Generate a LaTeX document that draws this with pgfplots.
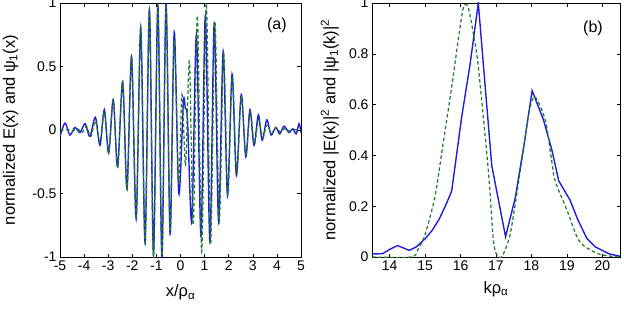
\documentclass[border=0pt]{standalone}
\usepackage{fontspec}
\setmainfont{Liberation Sans}
\usepackage{pgfplots}
\pgfplotsset{compat=1.18}

\definecolor{matblue}{RGB}{30,30,220}
\definecolor{matgreen}{RGB}{35,125,45}

\pgfplotsset{
  panel/.style={
    scale only axis,
    height=254pt,
    tick align=inside,
    major tick length=3.5pt,
    tick style={black, line width=0.5pt},
    axis line style={black, line width=0.6pt},
    font=\fontsize{14}{16}\selectfont,
    tick label style={font=\fontsize{14}{16}\selectfont},
    label style={font=\fontsize{16.5}{19}\selectfont},
    /pgf/number format/assume math mode=true,
  },
  efield/.style={matblue, line width=1.4pt},
  psi/.style={matgreen, line width=1.25pt, dash pattern=on 3.5pt off 2.5pt},
}

\begin{document}
\begin{tikzpicture}
\path[use as bounding box] (0pt,0pt) rectangle (624pt,311pt);

% (a) field E(x) and eigenmode psi_1(x) in real space
\begin{axis}[panel,
  at={(60pt,54pt)}, anchor=south west, width=241pt,
  xmin=-5, xmax=5, ymin=-1, ymax=1,
  xtick={-5,-4,-3,-2,-1,0,1,2,3,4,5},
  xticklabels={-5,-4,-3,-2,-1,0,1,2,3,4,5},
  ytick={-1,-0.5,0,0.5,1},
  yticklabels={-1,-0.5,0,0.5,1},
  xlabel={x/ρ\textsubscript{α}},
  ylabel={normalized E(x) and ψ\textsubscript{1}(x)},
  xlabel style={at={(axis description cs:0.5,-0.14)}, anchor=center},
  ylabel style={at={(axis description cs:-0.205,0.5)}, anchor=center},
]
\addplot[efield, smooth] coordinates {
(-5.00,-0.05)(-4.79,0.055)(-4.59,-0.04)(-4.38,0.02)(-4.17,-0.02)(-3.96,0.05)
(-3.76,-0.05)(-3.53,0.10)(-3.34,-0.12)(-3.16,0.16)(-2.98,-0.18)(-2.79,0.24)
(-2.61,-0.29)(-2.40,0.38)(-2.22,-0.46)(-2.03,0.58)(-1.84,-0.70)(-1.65,0.81)
(-1.47,-0.89)(-1.29,0.95)(-1.12,-0.98)(-0.94,0.98)(-0.77,-1.0)(-0.60,1.0)
(-0.43,-0.82)(-0.26,0.77)(-0.07,-0.50)(0.12,0.22)(0.20,0.17)(0.29,0.08)
(0.47,-0.72)(0.66,0.75)(0.85,-0.84)(1.03,0.90)(1.22,-0.88)(1.40,0.84)
(1.58,-0.72)(1.77,0.62)(1.95,-0.52)(2.14,0.44)(2.32,-0.36)(2.52,0.28)
(2.71,-0.21)(2.88,0.16)(3.05,-0.12)(3.23,0.12)(3.39,-0.08)(3.58,0.08)
(3.76,-0.04)(3.95,0.02)(4.12,-0.03)(4.30,0.03)(4.50,-0.02)(4.66,0.01)
(4.80,-0.03)(4.92,0.05)(5.00,-0.02)
};
\addplot[psi, smooth] coordinates {
(-5.00,0.0)(-4.65,0.003)(-4.45,-0.006)(-4.27,0.01)(-4.08,-0.02)(-3.90,0.03)
(-3.72,-0.05)(-3.53,0.07)(-3.34,-0.10)(-3.16,0.14)(-2.98,-0.18)(-2.79,0.24)
(-2.61,-0.30)(-2.40,0.38)(-2.22,-0.47)(-2.03,0.58)(-1.84,-0.70)(-1.65,0.80)
(-1.47,-0.89)(-1.29,0.95)(-1.12,-1.0)(-0.94,0.97)(-0.77,-0.99)(-0.60,0.97)
(-0.43,-0.80)(-0.26,0.70)(-0.08,-0.42)(0.06,0.28)(0.21,-0.28)(0.37,0.54)
(0.53,-0.75)(0.70,0.90)(0.88,-0.96)(1.07,1.0)(1.25,-0.90)(1.43,0.85)
(1.61,-0.72)(1.79,0.60)(1.96,-0.50)(2.15,0.42)(2.33,-0.34)(2.52,0.27)
(2.71,-0.20)(2.89,0.15)(3.06,-0.11)(3.24,0.08)(3.41,-0.06)(3.59,0.04)
(3.77,-0.03)(3.95,0.02)(4.13,-0.015)(4.30,0.01)(4.50,-0.005)(4.70,0.002)
(5.00,0.0)
};
\node[font=\fontsize{16}{18}\selectfont] at (axis description cs:0.90,0.913) {(a)};
\end{axis}

% (b) spectra |E(k)|^2 and |psi_1(k)|^2
\begin{axis}[panel,
  at={(372pt,54pt)}, anchor=south west, width=248pt,
  xmin=13.5, xmax=20.5, ymin=0, ymax=1,
  xtick={14,15,16,17,18,19,20},
  ytick={0,0.2,0.4,0.6,0.8,1},
  yticklabels={0,0.2,0.4,0.6,0.8,1},
  xlabel={kρ\textsubscript{α}},
  ylabel={normalized |E(k)|\textsuperscript{2} and |ψ\textsubscript{1}(k)|\textsuperscript{2}},
  xlabel style={at={(axis description cs:0.5,-0.125)}, anchor=center},
  ylabel style={at={(axis description cs:-0.17,0.5)}, anchor=center},
]
\addplot[efield] coordinates {
(13.5,0.012)(13.8,0.013)(14.0,0.03)(14.22,0.045)(14.4,0.035)(14.55,0.026)
(14.75,0.04)(15.0,0.072)(15.2,0.105)(15.4,0.15)(15.6,0.21)(15.75,0.26)
(16.03,0.55)(16.27,0.76)(16.5,1.0)(16.88,0.36)(17.27,0.08)(17.54,0.23)
(17.8,0.45)(18.02,0.655)(18.34,0.54)(18.58,0.42)(18.77,0.30)(19.09,0.224)
(19.3,0.15)(19.56,0.074)(19.8,0.04)(19.94,0.03)(20.2,0.012)(20.5,0.003)
};
\addplot[psi, smooth] coordinates {
(13.5,0)(14.6,0)(14.8,0.03)(15.0,0.09)(15.28,0.24)(15.51,0.45)(15.75,0.67)
(15.99,0.91)(16.1,0.99)(16.22,0.98)(16.36,0.88)(16.5,0.75)(16.79,0.33)
(16.93,0.06)(17.07,0.0)(17.2,0.01)(17.4,0.09)(17.6,0.26)(17.77,0.42)
(17.95,0.58)(18.1,0.63)(18.39,0.54)(18.55,0.40)(18.67,0.30)(19.0,0.185)
(19.33,0.067)(19.66,0.028)(20.0,0.008)(20.5,0.0)
};
\node[font=\fontsize{16}{18}\selectfont] at (axis description cs:0.891,0.90) {(b)};
\end{axis}
\end{tikzpicture}
\end{document}
